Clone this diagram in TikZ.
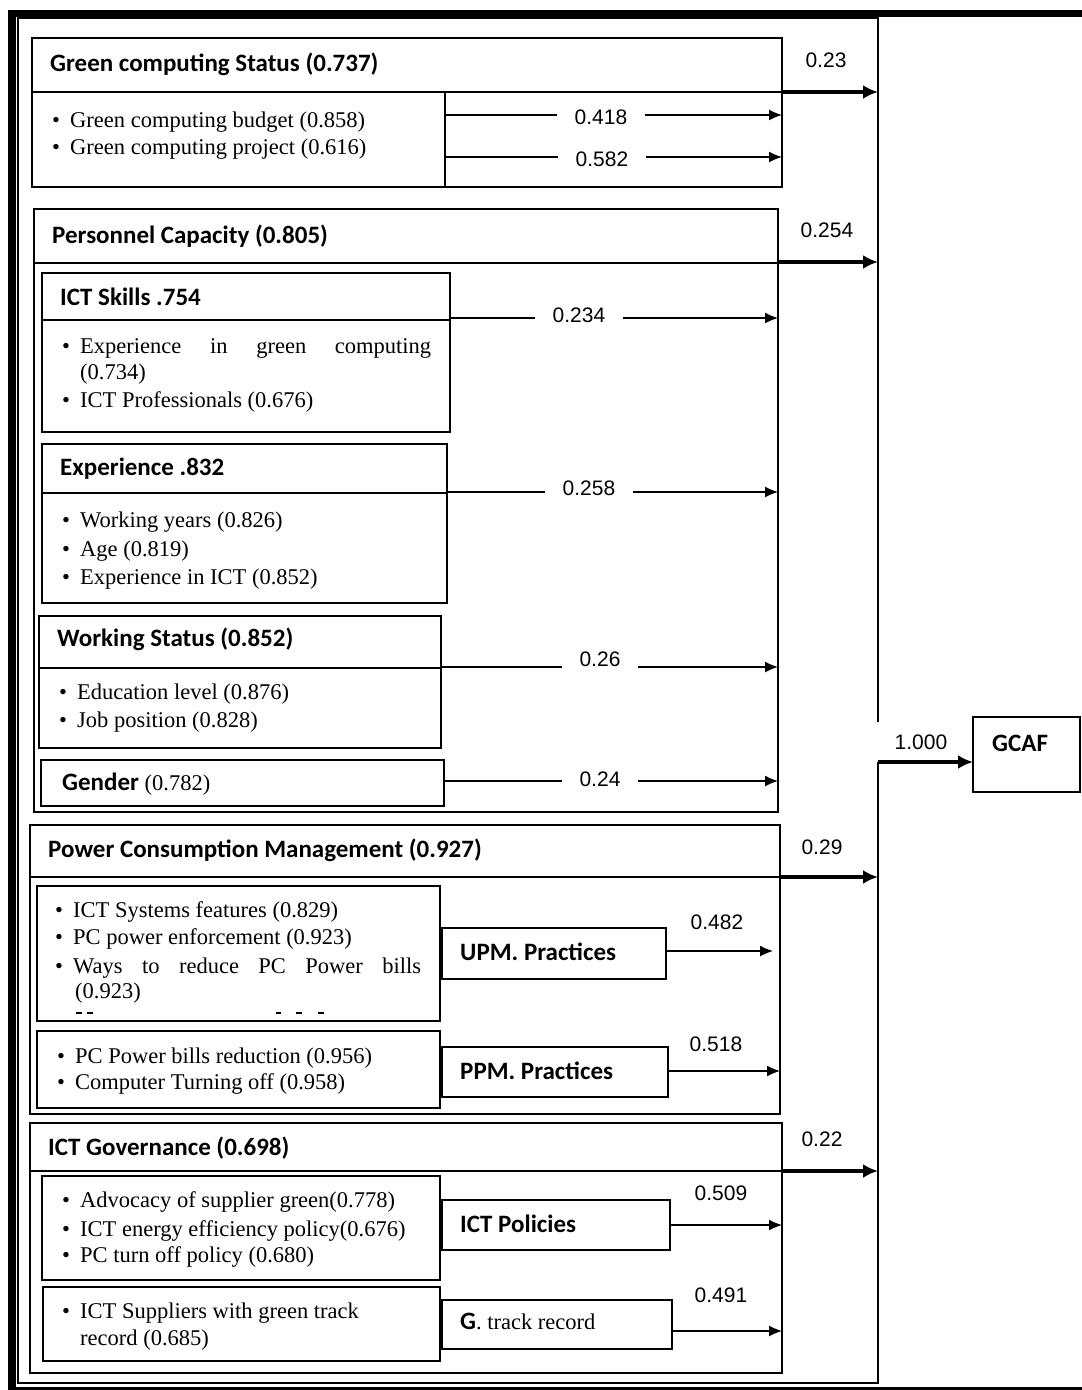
\documentclass[tikz,border=0pt]{standalone}
\usepackage{fontspec}
\usepackage{graphicx}
\setmainfont{Liberation Serif}
\newfontfamily\hdfont{Carlito}
\newfontfamily\numfont{Liberation Sans}
\usetikzlibrary{arrows.meta}
\newcommand\bul{\makebox[18pt][l]{\raisebox{0.5pt}{\scalebox{1.0}{\textbullet}}}}
\begin{document}
\begin{tikzpicture}[x=1pt,y=-1pt,
  bx/.style={draw, line width=2.4pt, inner sep=0pt, outer sep=0pt, anchor=north west},
  bxthin/.style={draw, line width=1.6pt, inner sep=0pt, outer sep=0pt, anchor=north west},
  hd/.style={font=\hdfont\bfseries\fontsize{25}{28}\selectfont, anchor=west, inner sep=0pt, text height=16pt, text depth=0pt},
  tx/.style={font=\fontsize{22.5}{27}\selectfont, anchor=west, inner sep=0pt, text height=15pt, text depth=0pt},
  num/.style={font=\numfont\fontsize{21}{24}\selectfont, inner sep=0pt, text height=15pt, text depth=0pt},
  numw/.style={num, fill=white, inner xsep=18pt, inner ysep=3pt},
  thinarr/.style={line width=1.4pt, -{Latex[length=13pt,width=11pt]}},
  thickarr/.style={line width=3.4pt, -{Latex[length=15pt,width=14pt]}}]
\useasboundingbox (0,0) rectangle (1082,1390);
% outer frame
\node[draw, line width=1.6pt, inner sep=0pt, outer sep=0pt, anchor=north west, minimum width=860pt, minimum height=1365pt] (frame) at (18,18) {};
\draw[line width=7pt] (8,13.5) -- (1082,13.5);
\draw[line width=8pt] (12,10) -- (12,1390);
\draw[line width=3pt] (8,1388) -- (1082,1388);

% ---------- Green computing status
\node[bx, minimum width=750pt, minimum height=149pt] (gcs) at (32,38) {};
\node[bx, minimum width=750pt, minimum height=54pt] (gcsH) at (32,38) {};
\node[bx, minimum width=413pt, minimum height=95pt] (gcsL) at (32,92) {};
\node[hd] (gcsT) at (50,63) {Green computing Status (0.737)};
\node[tx] (gcs1) at (52,120) {\bul Green computing budget (0.858)};
\node[tx] (gcs2) at (52,147) {\bul Green computing project (0.616)};
\draw[thinarr] (gcsL.east |- 0,115) -- (gcs.east |- 0,115);
\draw[thinarr] (gcsL.east |- 0,157) -- (gcs.east |- 0,157);
\node[numw] (l418) at (601,117) {0.418};
\node[numw] (l582) at (602,159) {0.582};
\draw[thickarr] (gcs.east |- 0,92) -- (frame.east |- 0,92);
\node[num] (l23) at (826,60) {0.23};

% ---------- Personnel capacity
\node[bx, minimum width=744pt, minimum height=603pt] (pc) at (34,209) {};
\node[bx, minimum width=744pt, minimum height=54pt] (pcH) at (34,209) {};
\node[hd] (pcT) at (52,235) {Personnel Capacity (0.805)};
\draw[thickarr] (pc.east |- 0,262) -- (frame.east |- 0,262);
\node[num] (l254) at (827,230) {0.254};

\node[bx, minimum width=408pt, minimum height=47pt] (skH) at (42,273) {};
\node[bx, minimum width=408pt, minimum height=112pt] (skB) at (42,320) {};
\node[hd] (skT) at (60,297) {ICT Skills .754};
\node[tx] (sk1) at (62,346) {\hbox to 369pt{\bul Experience\hfill in\hfill green\hfill computing}};
\node[tx] (sk2) at (80,372) {(0.734)};
\node[tx] (sk3) at (62,400) {\bul ICT Professionals (0.676)};
\draw[thinarr] (skH.east |- 0,318) -- (pc.east |- 0,318);
\node[numw] (l234) at (579,315) {0.234};

\node[bx, minimum width=405pt, minimum height=49pt] (exH) at (42,444) {};
\node[bx, minimum width=405pt, minimum height=110pt] (exB) at (42,493) {};
\node[hd] (exT) at (60,467) {Experience .832};
\node[tx] (ex1) at (62,520) {\bul Working years (0.826)};
\node[tx] (ex2) at (62,549) {\bul Age (0.819)};
\node[tx] (ex3) at (62,577) {\bul Experience in ICT (0.852)};
\draw[thinarr] (exH.east |- 0,492) -- (pc.east |- 0,492);
\node[numw] (l258) at (589,488) {0.258};

\node[bx, minimum width=402pt, minimum height=52pt] (wsH) at (39,616) {};
\node[bx, minimum width=402pt, minimum height=80pt] (wsB) at (39,668) {};
\node[hd] (wsT) at (57,638) {Working Status (0.852)};
\node[tx] (ws1) at (59,692) {\bul Education level (0.876)};
\node[tx] (ws2) at (59,720) {\bul Job position (0.828)};
\draw[thinarr] (wsH.east |- 0,667) -- (pc.east |- 0,667);
\node[numw] (l26) at (600,659) {0.26};

\node[bx, minimum width=403pt, minimum height=46pt] (gen) at (41,760) {};
\node[tx] (genT) at (62,783) {{\hdfont\bfseries\fontsize{25}{28}\selectfont Gender} (0.782)};
\draw[thinarr] (gen.east |- 0,781) -- (pc.east |- 0,781);
\node[numw] (l24) at (600,779) {0.24};

% ---------- Power consumption management
\node[bx, minimum width=750pt, minimum height=289pt] (pcm) at (30,825) {};
\node[bx, minimum width=750pt, minimum height=52pt] (pcmH) at (30,825) {};
\node[hd] (pcmT) at (48,849) {Power Consumption Management (0.927)};
\draw[thickarr] (pcm.east |- 0,877) -- (frame.east |- 0,877);
\node[num] (l29) at (822,847) {0.29};

\node[bxthin, minimum width=403pt, minimum height=135pt] (pcmB1) at (37,886) {};
\node[tx] (pb1) at (55,910) {\bul ICT Systems features (0.829)};
\node[tx] (pb2) at (55,937) {\bul PC power enforcement (0.923)};
\node[tx] (pb3) at (55,966) {\hbox to 366pt{\bul Ways\hfill to\hfill reduce\hfill PC\hfill Power\hfill bills}};
\node[tx] (pb4) at (75,991) {(0.923)};
\draw[line width=1.3pt] (76,1013) -- (82,1013) (87,1013) -- (93,1013)
  (276,1013) -- (281,1013) (296,1013) -- (302,1013) (318,1013) -- (324,1013);
\node[bx, minimum width=224pt, minimum height=51pt] (upm) at (442,928) {};
\node[hd] (upmT) at (460,952) {UPM. Practices};
\draw[thinarr] (upm.east |- 0,951) -- (773,951);
\node[num] (l482) at (717,922) {0.482};

\node[bxthin, minimum width=403pt, minimum height=77pt] (pcmB2) at (37,1031) {};
\node[tx] (pc21) at (57,1056) {\bul PC Power bills reduction (0.956)};
\node[tx] (pc22) at (57,1082) {\bul Computer Turning off (0.958)};
\node[bx, minimum width=226pt, minimum height=50pt] (ppm) at (442,1047) {};
\node[hd] (ppmT) at (460,1071) {PPM. Practices};
\draw[thinarr] (ppm.east |- 0,1071) -- (pcm.east |- 0,1071);
\node[num] (l518) at (716,1044) {0.518};

% ---------- ICT governance
\node[bx, minimum width=752pt, minimum height=250pt] (ig) at (30,1123) {};
\node[bx, minimum width=752pt, minimum height=48pt] (igH) at (30,1123) {};
\node[hd] (igT) at (48,1147) {ICT Governance (0.698)};
\draw[thickarr] (ig.east |- 0,1171) -- (frame.east |- 0,1171);
\node[num] (l22) at (822,1139) {0.22};

\node[bxthin, minimum width=398pt, minimum height=104pt] (igB1) at (42,1176) {};
\node[tx] (ig1) at (62,1200) {\bul Advocacy of supplier green(0.778)};
\node[tx] (ig2) at (62,1229) {\bul ICT energy efficiency policy(0.676)};
\node[tx] (ig3) at (62,1255) {\bul PC turn off policy (0.680)};
\node[bx, minimum width=228pt, minimum height=50pt] (icp) at (442,1200) {};
\node[hd] (icpT) at (460,1224) {ICT Policies};
\draw[thinarr] (icp.east |- 0,1225) -- (ig.east |- 0,1225);
\node[num] (l509) at (721,1193) {0.509};

\node[bxthin, minimum width=397pt, minimum height=74pt] (igB2) at (43,1287) {};
\node[tx] (ig4) at (62,1311) {\bul ICT Suppliers with green track};
\node[tx] (ig5) at (80,1338) {record (0.685)};
\node[bx, minimum width=230pt, minimum height=49pt] (gtr) at (442,1300) {};
\node[tx] (gtrT) at (460,1322) {{\hdfont\bfseries\fontsize{25}{28}\selectfont G}. track record};
\draw[thinarr] (gtr.east |- 0,1331) -- (ig.east |- 0,1331);
\node[num] (l491) at (721,1295) {0.491};

% ---------- GCAF
\node[bx, minimum width=107pt, minimum height=75pt] (gcaf) at (973,717) {};
\node[hd] (gcafT) at (992,743) {GCAF};
\node[num, fill=white, minimum width=90pt, minimum height=40pt] (l1000) at (921,742) {1.000};
\draw[thickarr] (frame.east |- 0,762) -- (gcaf.west |- 0,762);
\end{tikzpicture}
\end{document}
